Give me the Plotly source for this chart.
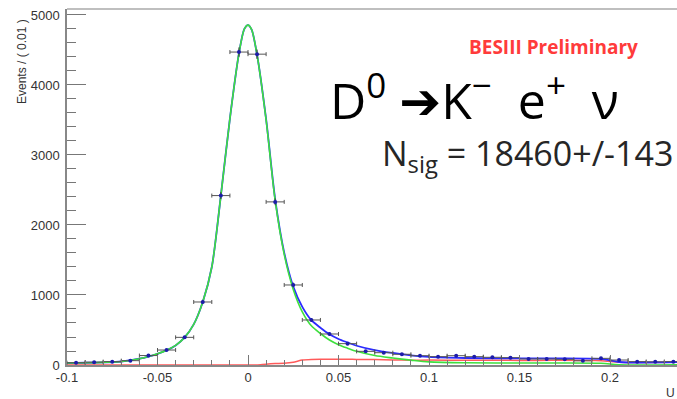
import numpy as np
import plotly.graph_objects as go

# ---- binned data: Events / (0.01) ----
bin_centers = [-0.095, -0.085, -0.075, -0.065, -0.055, -0.045, -0.035, -0.025, -0.015, -0.005,
               0.005, 0.015, 0.025, 0.035, 0.045, 0.055, 0.065, 0.075, 0.085, 0.095,
               0.105, 0.115, 0.125, 0.135, 0.145, 0.155, 0.165, 0.175, 0.185, 0.195,
               0.205, 0.215, 0.225, 0.235]
counts = [33, 40, 48, 62, 135, 214, 395, 900, 2420, 4470,
          4440, 2330, 1143, 643, 443, 305, 195, 176, 153, 133,
          119, 133, 119, 110, 105, 86, 86, 81, 60, 95,
          71, 48, 45, 48]

# ---- fit components sampled along U ----
curve_x = [-0.1, -0.09, -0.08, -0.07, -0.06, -0.055, -0.05, -0.045, -0.04, -0.035, -0.03,
           -0.025, -0.02, -0.015, -0.01, -0.005, -0.002, 0.0, 0.002, 0.005, 0.01, 0.015,
           0.02, 0.025, 0.03, 0.035, 0.04, 0.045, 0.05, 0.055, 0.06, 0.07, 0.08, 0.09,
           0.1, 0.12, 0.15, 0.195, 0.205, 0.237]
signal = [28, 32, 38, 50, 90, 120, 160, 210, 280, 395, 580,
          900, 1400, 2420, 3520, 4450, 4800, 4855, 4790, 4430, 3500, 2350,
          1580, 1080, 760, 560, 450, 357, 290, 240, 195, 135, 100, 70,
          45, 32, 28, 25, 3, 3]
background = [0, 0, 0, 0, 0, 0, 0, 0, 0, 0, 0,
              0, 0, 0, 0, 0, 0, 0, 0, 0, 12, 20,
              25, 40, 70, 80, 82, 82, 82, 82, 80, 78, 72, 68,
              70, 68, 66, 62, 40, 38]
total = [s + b for s, b in zip(signal, background)]

x_ticks = [-0.1, -0.05, 0, 0.05, 0.1, 0.15, 0.2]
x_tick_text = ["-0.1", "-0.05", "0", "0.05", "0.1", "0.15", "0.2"]
y_ticks = [0, 1000, 2000, 3000, 4000, 5000]

fig = go.Figure()

fig.add_trace(go.Scatter(x=curve_x, y=background, mode="lines",
                         line=dict(color="#ff5a5a", width=1.5, shape="spline", smoothing=0.6),
                         hoverinfo="skip"))
fig.add_trace(go.Scatter(x=curve_x, y=total, mode="lines",
                         line=dict(color="#2b2bff", width=1.8, shape="spline", smoothing=0.8),
                         hoverinfo="skip"))
fig.add_trace(go.Scatter(x=curve_x, y=signal, mode="lines",
                         line=dict(color="#3ee03e", width=1.6, shape="spline", smoothing=0.8),
                         hoverinfo="skip"))
fig.add_trace(go.Scatter(
    x=bin_centers, y=counts, mode="markers",
    marker=dict(color="#1c1caa", size=4),
    error_x=dict(type="constant", value=0.005, color="#555555", thickness=1, width=2),
    error_y=dict(type="data", array=np.sqrt(counts), color="#333333", thickness=1, width=0),
))

# plot-area geometry (px) used to place the labels
W, H = 677, 399
L, R, T, B = 67, 0, 9, 34
pw, ph = W - L - R, H - T - B


def px(x):
    return (x - L) / pw


def py(y):
    return (H - B - y) / ph


fig.update_layout(
    width=W, height=H,
    margin=dict(l=L, r=R, t=T, b=B),
    paper_bgcolor="white", plot_bgcolor="white",
    showlegend=False,
    font=dict(family="Liberation Sans, Arial, sans-serif", color="#333333", size=13),
    xaxis=dict(
        range=[-0.1, 0.237], tickvals=x_ticks, ticktext=x_tick_text,
        ticks="inside", ticklen=10, tickcolor="#777777", tickwidth=1,
        showline=True, linecolor="#888888", linewidth=1.5, mirror=False,
        showgrid=False, zeroline=False,
        minor=dict(ticks="inside", ticklen=5, dtick=0.01, tickcolor="#777777", showgrid=False),
        tickfont=dict(size=13, color="#333333"),
    ),
    yaxis=dict(
        range=[0, 5085], tickvals=y_ticks,
        ticks="inside", ticklen=19, tickcolor="#777777", tickwidth=1,
        showline=True, linecolor="#888888", linewidth=1.5, mirror=False,
        showgrid=False, zeroline=False,
        minor=dict(ticks="inside", ticklen=9, dtick=200, tickcolor="#777777", showgrid=False),
        tickfont=dict(size=13, color="#333333"),
        ticklabelstandoff=3,
    ),
    shapes=[dict(type="line", xref="paper", yref="paper", x0=0, x1=1, y0=1, y1=1,
                 line=dict(color="#aaaaaa", width=1.5))],
    annotations=[
        dict(text="Events / ( 0.01 )", textangle=-90, xref="paper", yref="paper",
             x=px(22), y=py(62), xanchor="center", yanchor="middle", showarrow=False,
             font=dict(size=12, color="#333333")),
        dict(text="U", xref="paper", yref="paper", x=px(664), y=py(393),
             xanchor="left", yanchor="middle", showarrow=False,
             font=dict(size=12, color="#333333")),
        dict(text="<b>BESIII Preliminary</b>", xref="paper", yref="paper", x=px(467), y=py(47),
             xanchor="left", yanchor="middle", showarrow=False,
             font=dict(family="Open Sans, sans-serif", size=19, color="#ff3b3b")),
        dict(text="D<sup>0</sup> ➔K<sup>−</sup>&nbsp; e<sup>+</sup>&nbsp; ν",
             xref="paper", yref="paper",
             x=px(328), y=py(97), xanchor="left", yanchor="middle", showarrow=False,
             font=dict(family="Open Sans, DejaVu Sans, sans-serif", size=50, color="#000000")),
        dict(text="N<sub>sig</sub> = 18460+/-143", xref="paper", yref="paper",
             x=px(380), y=py(155), xanchor="left", yanchor="middle", showarrow=False,
             font=dict(family="Open Sans, sans-serif", size=34, color="#262626")),
    ],
)

fig.write_html("out.html")
